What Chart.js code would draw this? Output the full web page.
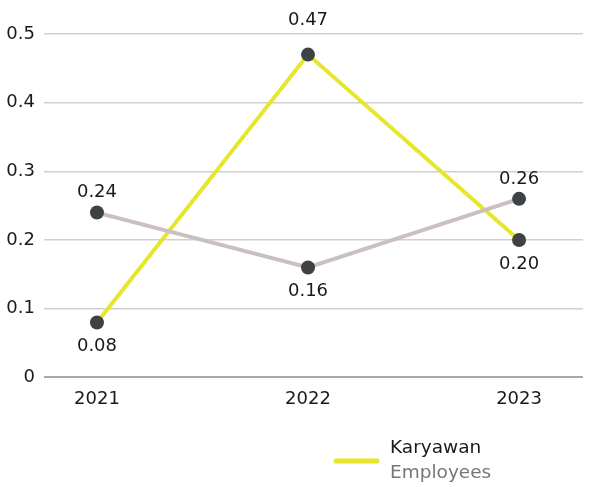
<!doctype html>
<html>
<head>
    <script src="https://cdn.jsdelivr.net/npm/chart.js@4.4.0/dist/chart.umd.min.js"></script>
    <style>
        body { margin: 0; background: #fff; }
        .wrap { width: 590px; height: 487px; position: relative; }
    </style>
    <script>
        const years = [2021, 2022, 2023];
        const grayValues = [0.24, 0.16, 0.26];
        const yellowValues = [0.08, 0.47, 0.20];
        // label placement: 1 above, -1 below
        const grayLabelPos = [1, -1, 1];
        const yellowLabelPos = [-1, 1, -1];
        const legendTop = 'Karyawan';
        const legendBottom = 'Employees';
    </script>
</head>
<body>
<div class="wrap"><canvas id="chart" width="590" height="487"></canvas></div>
<script>
const FONT = '"DejaVu Sans", sans-serif';

const labelPlugin = {
    id: 'valueLabels',
    afterDatasetsDraw(chart) {
        const ctx = chart.ctx;
        const yMax = Math.max(...grayValues, ...yellowValues);
        ctx.save();
        ctx.font = '18px ' + FONT;
        ctx.fillStyle = '#1a1a1a';
        ctx.textAlign = 'center';
        ctx.textBaseline = 'middle';
        chart.data.datasets.forEach((ds, i) => {
            const meta = chart.getDatasetMeta(i);
            meta.data.forEach((pt, j) => {
                const dir = ds.labelPos[j];
                let off = dir > 0 ? 20 : 24;
                if (ds.data[j].y === yMax) off = 34;
                ctx.fillText(ds.data[j].y.toFixed(2), pt.x, pt.y - dir * off);
            });
        });
        // legend
        ctx.strokeStyle = '#e6e62c';
        ctx.lineWidth = 5;
        ctx.lineCap = 'round';
        ctx.beginPath();
        ctx.moveTo(336, 461);
        ctx.lineTo(377, 461);
        ctx.stroke();
        ctx.textAlign = 'left';
        ctx.font = '18.5px ' + FONT;
        ctx.fillStyle = '#1a1a1a';
        ctx.fillText(legendTop, 390, 448);
        ctx.fillStyle = '#76767b';
        ctx.fillText(legendBottom, 390, 473);
        ctx.restore();
    }
};

const pts = arr => arr.map((v, i) => ({ x: years[i], y: v }));

const config = {
    type: 'line',
    data: {
        datasets: [
            {
                label: 'Gray',
                data: pts(grayValues),
                labelPos: grayLabelPos,
                borderColor: '#c9c0bf',
                borderWidth: 4,
                pointRadius: 7,
                pointBackgroundColor: '#3f4244',
                pointBorderWidth: 0,
                tension: 0
            },
            {
                label: legendTop,
                data: pts(yellowValues),
                labelPos: yellowLabelPos,
                borderColor: '#e6e62c',
                borderWidth: 4,
                pointRadius: 7,
                pointBackgroundColor: '#3f4244',
                pointBorderWidth: 0,
                tension: 0
            }
        ]
    },
    options: {
        responsive: false,
        animation: false,
        layout: { padding: { top: 34, right: 7, bottom: 74, left: 0 } },
        plugins: { legend: { display: false }, tooltip: { enabled: false } },
        scales: {
            x: {
                type: 'linear',
                min: 2020.749,
                max: 2023.303,
                afterBuildTicks: s => { s.ticks = years.map(v => ({ value: v })); },
                grid: { display: false },
                border: { display: false },
                ticks: {
                    color: '#1a1a1a',
                    font: { size: 18, family: FONT },
                    padding: 3,
                    callback: v => String(v)
                }
            },
            y: {
                min: 0,
                max: 0.5,
                afterFit: s => { s.width = 44; },
                ticks: {
                    stepSize: 0.1,
                    color: '#1a1a1a',
                    font: { size: 18, family: FONT },
                    padding: 9,
                    callback: v => v === 0 ? '0' : v.toFixed(1)
                },
                grid: {
                    color: c => c.tick.value === 0 ? '#a8a8a8' : '#d0d0d0',
                    lineWidth: c => c.tick.value === 0 ? 2 : 1.5,
                    drawTicks: false
                },
                border: { display: false }
            }
        }
    },
    plugins: [labelPlugin]
};

const chart = new Chart(document.getElementById('chart').getContext('2d'), config);
</script>
</body>
</html>
